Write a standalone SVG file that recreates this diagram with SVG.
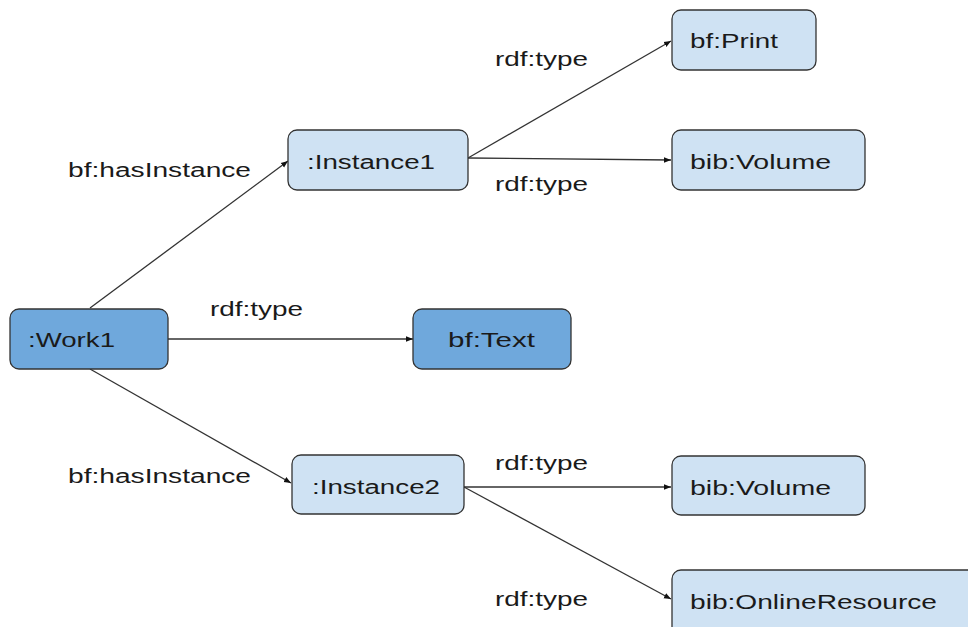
<svg xmlns="http://www.w3.org/2000/svg" width="968" height="627" viewBox="0 0 968 627">
<defs>
<style>
.node rect{stroke:#333;stroke-width:1.3}
.dark rect{fill:#6fa8dc}
.light rect{fill:#cfe2f3}
text{font-family:"Liberation Sans",Arial,sans-serif;font-size:20px;fill:#1a1a1a}
.edge{stroke:#333;stroke-width:1.3;fill:none;marker-end:url(#arr)}
</style>
<marker id="arr" viewBox="0 0 10 10" refX="10" refY="5" markerWidth="7" markerHeight="7" markerUnits="userSpaceOnUse" orient="auto">
<path d="M0,1 L10,5 L0,9 Z" fill="#111"/>
</marker>
</defs>
<rect width="968" height="627" fill="#fff"/>
<g id="connectors">
<line class="edge" x1="90" y1="308" x2="288" y2="161"/>
<line class="edge" x1="168" y1="339" x2="413" y2="339"/>
<line class="edge" x1="90" y1="369" x2="291" y2="483"/>
<line class="edge" x1="468" y1="158" x2="671" y2="41"/>
<line class="edge" x1="468" y1="158" x2="671" y2="160"/>
<line class="edge" x1="464" y1="487" x2="671" y2="487"/>
<line class="edge" x1="464" y1="487" x2="671" y2="599"/>
</g>
<g id="labels">
<text x="68" y="177" textLength="183" lengthAdjust="spacingAndGlyphs">bf:hasInstance</text>
<text x="68" y="483" textLength="183" lengthAdjust="spacingAndGlyphs">bf:hasInstance</text>
<text x="210" y="316" textLength="93" lengthAdjust="spacingAndGlyphs">rdf:type</text>
<text x="495" y="66" textLength="93" lengthAdjust="spacingAndGlyphs">rdf:type</text>
<text x="495" y="191" textLength="93" lengthAdjust="spacingAndGlyphs">rdf:type</text>
<text x="495" y="470" textLength="93" lengthAdjust="spacingAndGlyphs">rdf:type</text>
<text x="495" y="606" textLength="93" lengthAdjust="spacingAndGlyphs">rdf:type</text>
</g>
<g id="work1" class="node dark">
<rect x="10" y="309" width="158" height="60" rx="9"/>
<text x="28" y="347" textLength="87" lengthAdjust="spacingAndGlyphs">:Work1</text>
</g>
<g id="bfText" class="node dark">
<rect x="413" y="309" width="158" height="60" rx="9"/>
<text x="448" y="347" textLength="87" lengthAdjust="spacingAndGlyphs">bf:Text</text>
</g>
<g id="instance1" class="node light">
<rect x="288" y="130" width="180" height="60" rx="9"/>
<text x="307" y="169" textLength="128" lengthAdjust="spacingAndGlyphs">:Instance1</text>
</g>
<g id="instance2" class="node light">
<rect x="292" y="455" width="172" height="59" rx="9"/>
<text x="312" y="494" textLength="128" lengthAdjust="spacingAndGlyphs">:Instance2</text>
</g>
<g id="bfPrint" class="node light">
<rect x="672" y="10" width="144" height="60" rx="9"/>
<text x="690" y="48" textLength="88" lengthAdjust="spacingAndGlyphs">bf:Print</text>
</g>
<g id="bibVolume1" class="node light">
<rect x="672" y="130" width="193" height="60" rx="9"/>
<text x="690" y="169" textLength="141" lengthAdjust="spacingAndGlyphs">bib:Volume</text>
</g>
<g id="bibVolume2" class="node light">
<rect x="672" y="456" width="193" height="59" rx="9"/>
<text x="690" y="495" textLength="141" lengthAdjust="spacingAndGlyphs">bib:Volume</text>
</g>
<g id="bibOnlineResource" class="node light">
<rect x="672" y="570" width="310" height="70" rx="9"/>
<text x="690" y="609" textLength="247" lengthAdjust="spacingAndGlyphs">bib:OnlineResource</text>
</g>
</svg>
